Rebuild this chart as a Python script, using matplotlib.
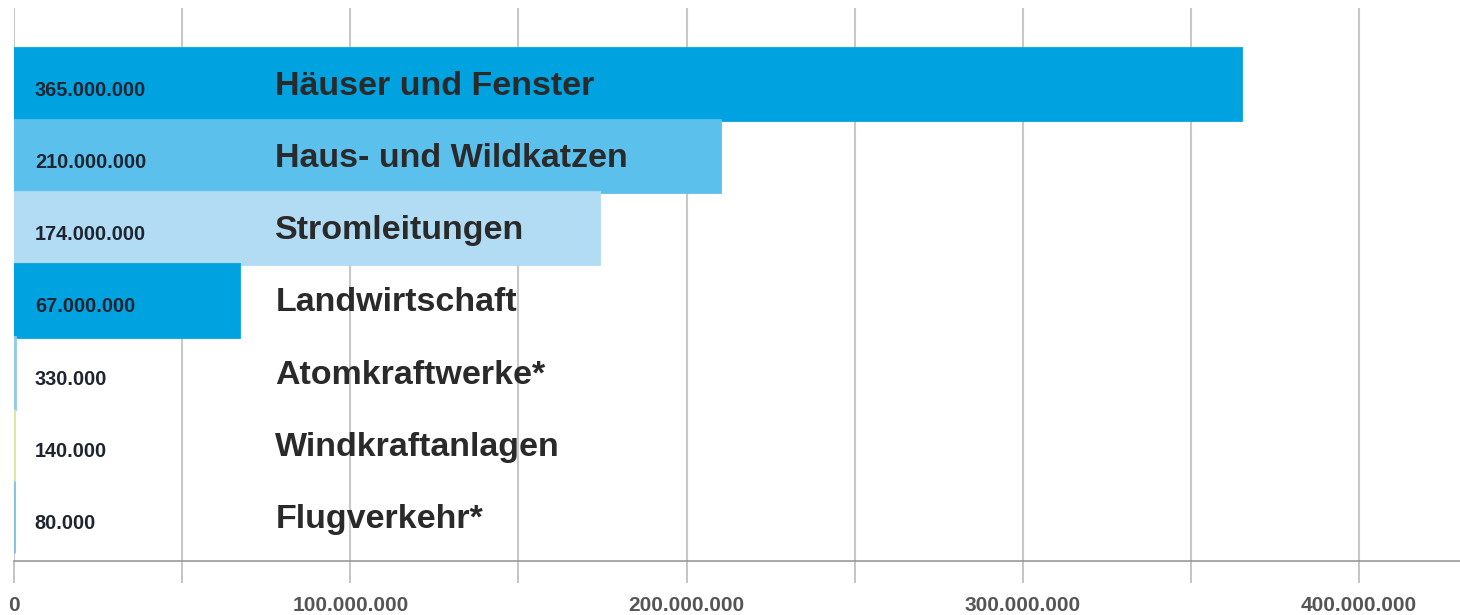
import matplotlib.pyplot as plt
from matplotlib.ticker import FuncFormatter, MultipleLocator

plt.rcParams['font.family'] = ['Liberation Sans', 'DejaVu Sans']

# Todesursachen von Vögeln pro Jahr
categories = ["Häuser und Fenster", "Haus- und Wildkatzen", "Stromleitungen",
              "Landwirtschaft", "Atomkraftwerke*", "Windkraftanlagen", "Flugverkehr*"]
values = [365000000, 210000000, 174000000, 67000000, 330000, 140000, 80000]
colors = ["#00a3e0", "#5bc0ec", "#b1dcf4", "#00a3e0", "#8fcbe8", "#d9e6a0", "#7fc0e0"]
tick_values = [0, 100000000, 200000000, 300000000, 400000000]


def de_format(v):
    return f"{int(v):,}".replace(",", ".")


fig = plt.figure(figsize=(14.6, 6.15), dpi=100)
ax = fig.add_axes([14 / 1460, 54 / 615, 1446 / 1460, 553 / 615])

pos = range(len(categories))
ax.barh(pos, values, height=1.0, color=colors, edgecolor=colors,
        linewidth=2, zorder=2)

for i, (cat, v) in enumerate(zip(categories, values)):
    ax.text(6.2e6, i + 0.166, de_format(v), va="baseline", ha="left",
            fontsize=14.3, fontweight="bold", color="#1e2530", zorder=3)
    ax.text(77.7e6, i + 0.152, cat, va="baseline", ha="left",
            fontsize=24.5, fontweight="bold", color="#2a2a2a", zorder=3)

ax.set_xlim(0, 430e6)
ax.set_ylim(6.61, -1.054)

# gitterlinien alle 50 Mio., beschriftung nur alle 100 Mio.
ax.xaxis.set_major_locator(MultipleLocator(50e6))
ax.xaxis.set_major_formatter(FuncFormatter(
    lambda v, p: de_format(v) if v in tick_values else ""))
ax.grid(axis="x", color="#c8c8c8", linewidth=1.5, zorder=0)
ax.tick_params(axis="x", length=16, width=1.2, color="#bbbbbb",
               labelsize=15, labelcolor="#555555", pad=9)
for lbl in ax.get_xticklabels():
    lbl.set_fontweight("bold")
ax.set_yticks([])

for s in ["top", "right", "left"]:
    ax.spines[s].set_visible(False)
ax.spines["bottom"].set_color("#999999")
ax.spines["bottom"].set_linewidth(1.2)

fig.savefig("out.png", dpi=100)
